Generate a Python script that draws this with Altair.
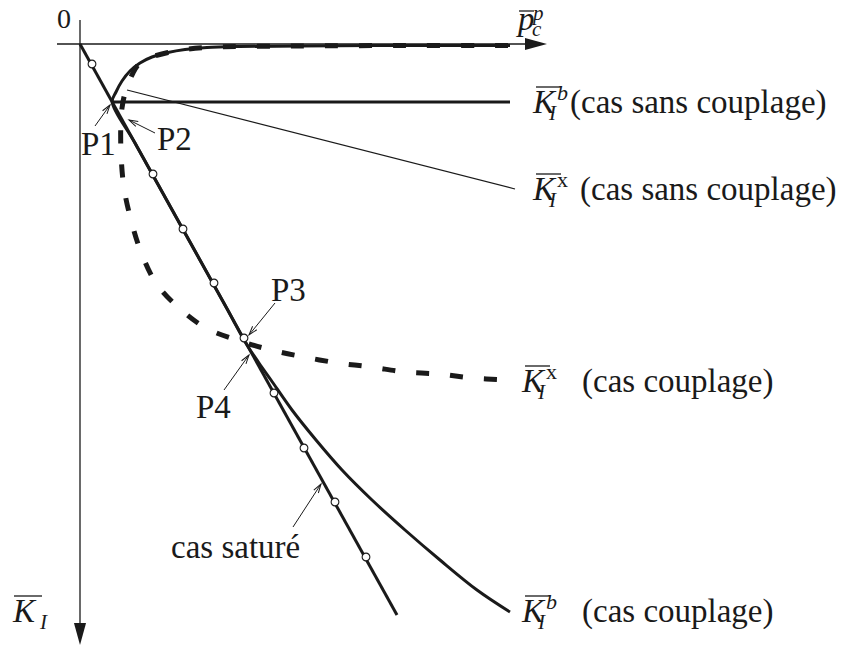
import altair as alt
import pandas as pd

# ---- curves: p̄_c^p along x, K̄_I growing downward along y ----
# saturated case (straight line) and its marker points
sat_p = [0.0, 3.17]
sat_k = [0.0, 5.71]
sat_mark_p = [0.12, 0.73, 1.03, 1.34, 1.64, 1.94, 2.24, 2.55, 2.86]
sat_mark_k = [0.20, 1.30, 1.85, 2.39, 2.94, 3.49, 4.04, 4.58, 5.13]

# K_I^b, coupled case (solid): joins the saturated line at P1, leaves it at P4
kb_cpl_p = [4.30, 3.20, 2.20, 1.60, 1.27, 1.05, 0.88, 0.72, 0.60, 0.50, 0.42, 0.36, 0.322,
            0.55, 1.00, 1.45, 1.67, 1.79, 1.91, 2.12, 2.36, 2.62, 2.92, 3.25, 3.60, 3.97, 4.30]
kb_cpl_k = [0.015, 0.015, 0.02, 0.025, 0.035, 0.055, 0.085, 0.13, 0.19, 0.27, 0.37, 0.48, 0.58,
            0.99, 1.80, 2.61, 3.01, 3.19, 3.36, 3.66, 3.96, 4.26, 4.56, 4.86, 5.16, 5.46, 5.68]

# K_I^x, coupled case (thick dashes)
kx_cpl_p = [4.28, 3.20, 2.20, 1.60, 1.27, 1.05, 0.88, 0.72, 0.60, 0.53, 0.48, 0.44, 0.42, 0.41,
            0.41, 0.44, 0.51, 0.61, 0.76, 0.99, 1.26, 1.57, 1.91, 2.24, 2.58, 2.91, 3.25, 3.58,
            3.92, 4.27]
kx_cpl_k = [0.015, 0.015, 0.02, 0.025, 0.035, 0.055, 0.085, 0.13, 0.19, 0.29, 0.41, 0.53, 0.64,
            0.74, 1.09, 1.44, 1.76, 2.08, 2.39, 2.64, 2.84, 2.96, 3.06, 3.13, 3.19, 3.23, 3.28,
            3.30, 3.34, 3.36]

# uncoupled cases
kb_unc_p = [0.322, 4.30]
kb_unc_k = [0.58, 0.58]
kx_unc_p = [0.47, 4.35]
kx_unc_k = [0.46, 1.45]

# ---- annotations ----
pt_names = ["P1", "P2", "P3", "P4", "cas saturé"]
pt_text_p = [0.01, 0.77, 1.91, 1.16, 0.91]
pt_text_k = [1.11, 1.06, 2.57, 3.74, 5.14]
arr_tail_p = [0.15, 0.75, 1.95, 1.44, 2.13]
arr_tail_k = [0.82, 0.89, 2.59, 3.46, 4.83]
arr_tip_p = [0.30, 0.49, 1.69, 1.69, 2.41]
arr_tip_k = [0.61, 0.76, 2.91, 3.11, 4.40]
arr_angle = [35.5, 296.6, 219.1, 35.5, 33.1]

lab_sup = ["b", "x", "x", "b"]
lab_rest = ["(cas sans couplage)", "(cas sans couplage)", "(cas couplage)", "(cas couplage)"]
lab_k_p = [4.53, 4.53, 4.42, 4.42]
lab_rest_p = [4.90, 5.00, 5.02, 5.02]
lab_base_k = [0.69, 1.56, 3.48, 5.78]

FONT = "Liberation Serif, DejaVu Serif, serif"
FS = 33
INK = "#1a1a1a"
XS = alt.Scale(domain=[-0.80, 7.69], nice=False, zero=False)
YS = alt.Scale(domain=[-0.44, 6.04], nice=False, zero=False, reverse=True)


def enc(px="p", ky="k"):
    return dict(x=alt.X(f"{px}:Q", scale=XS, axis=None),
                y=alt.Y(f"{ky}:Q", scale=YS, axis=None))


def path(ps, ks):
    return pd.DataFrame({"p": ps, "k": ks, "i": range(len(ps))})


def curve(ps, ks, **mark):
    return alt.Chart(path(ps, ks)).mark_line(color=INK, strokeCap="butt", **mark).encode(
        order="i:Q", **enc())


def txt(**kw):
    base = dict(font=FONT, align="left", baseline="alphabetic", color=INK)
    base.update(kw)
    return base


# axes with arrowheads
axes_df = pd.DataFrame({"p": [-0.23, 0.0], "k": [0.0, -0.24], "p2": [4.47, 0.0], "k2": [0.0, 5.80]})
axes = alt.Chart(axes_df).mark_rule(color=INK, strokeWidth=1.3).encode(
    x2="p2:Q", y2="k2:Q", **enc())
head_h = alt.Chart(pd.DataFrame({"p": [4.56], "k": [0.0]})).mark_point(
    shape="M-1,-0.55L1,0L-1,0.55Z", size=484, filled=True, color=INK, opacity=1).encode(**enc())
head_v = alt.Chart(pd.DataFrame({"p": [0.0], "k": [5.90]})).mark_point(
    shape="M-0.55,-1L0.55,-1L0,1Z", size=484, filled=True, color=INK, opacity=1).encode(**enc())

thin = curve(kx_unc_p, kx_unc_k, strokeWidth=1.2)
horiz = curve(kb_unc_p, kb_unc_k, strokeWidth=3)
sat = curve(sat_p, sat_k, strokeWidth=3)
kb_c = curve(kb_cpl_p, kb_cpl_k, strokeWidth=3, interpolate="catmull-rom")
kx_c = curve(kx_cpl_p, kx_cpl_k, strokeWidth=5, strokeDash=[13, 21], interpolate="catmull-rom")
marks = alt.Chart(pd.DataFrame({"p": sat_mark_p, "k": sat_mark_k})).mark_point(
    shape="circle", size=60, filled=True, fill="white", stroke=INK, strokeWidth=1.1,
    opacity=1).encode(**enc())

# pointer arrows
ann = pd.DataFrame({"name": pt_names, "tp": pt_text_p, "tk": pt_text_k,
                    "ap": arr_tail_p, "ak": arr_tail_k, "bp": arr_tip_p, "bk": arr_tip_k,
                    "ang": arr_angle})
shafts = alt.Chart(ann).mark_rule(color=INK, strokeWidth=1).encode(
    x2="bp:Q", y2="bk:Q", **enc("ap", "ak"))
tips = alt.Chart(ann).mark_point(shape="M-0.3,1L0,0L0.3,1", size=324, filled=False,
                                 color=INK, strokeWidth=1, opacity=1).encode(
    angle=alt.Angle("ang:Q", scale=None), **enc("bp", "bk"))
pt_text = alt.Chart(ann).mark_text(**txt(fontSize=FS)).encode(text="name:N", **enc("tp", "tk"))

# right-hand curve labels: K̄_I^{b|x} (...)
labs = pd.DataFrame({"sup": lab_sup, "rest": lab_rest, "kp": lab_k_p, "rp": lab_rest_p,
                     "kk": lab_base_k})
base = alt.Chart(labs)
lab_K = base.mark_text(**txt(text="K", fontSize=FS, fontStyle="italic")).encode(**enc("kp", "kk"))
lab_I = base.mark_text(**txt(text="I", fontSize=21, fontStyle="italic", dx=16, dy=7)).encode(
    **enc("kp", "kk"))
lab_b = base.transform_filter("datum.sup == 'b'").mark_text(
    **txt(fontSize=22, fontStyle="italic", dx=24, dy=-13)).encode(text="sup:N", **enc("kp", "kk"))
lab_x = base.transform_filter("datum.sup == 'x'").mark_text(
    **txt(fontSize=22, dx=24, dy=-13)).encode(text="sup:N", **enc("kp", "kk"))
lab_bar = base.mark_rule(color=INK, strokeWidth=1.3, xOffset=3, x2Offset=28,
                         yOffset=-26, y2Offset=-26).encode(
    x2="kp:Q", y2="kk:Q", **enc("kp", "kk"))
lab_rest_t = base.mark_text(**txt(fontSize=FS)).encode(text="rest:N", **enc("rp", "kk"))

# axis titles and origin
ax_p = alt.Chart(pd.DataFrame({"p": [4.38], "k": [-0.14]}))
p_main = ax_p.mark_text(**txt(text="p", fontSize=FS, fontStyle="italic")).encode(**enc())
p_sub = ax_p.mark_text(**txt(text="c", fontSize=21, fontStyle="italic", dx=14, dy=6)).encode(**enc())
p_sup = ax_p.mark_text(**txt(text="p", fontSize=21, fontStyle="italic", dx=15, dy=-10)).encode(**enc())
p_bar = ax_p.mark_rule(color=INK, strokeWidth=1.3, xOffset=1, x2Offset=16,
                       yOffset=-19, y2Offset=-19).encode(x2="p:Q", y2="k:Q", **enc())

ax_k = alt.Chart(pd.DataFrame({"p": [-0.67], "k": [5.78]}))
k_main = ax_k.mark_text(**txt(text="K", fontSize=FS, fontStyle="italic")).encode(**enc())
k_sub = ax_k.mark_text(**txt(text="I", fontSize=21, fontStyle="italic", dx=27, dy=7)).encode(**enc())
k_bar = ax_k.mark_rule(color=INK, strokeWidth=1.3, xOffset=1, x2Offset=29,
                       yOffset=-26, y2Offset=-26).encode(x2="p:Q", y2="k:Q", **enc())

zero = alt.Chart(pd.DataFrame({"p": [-0.23], "k": [-0.16]})).mark_text(
    **txt(text="0", fontSize=28)).encode(**enc())

chart = alt.layer(
    axes, head_h, head_v, thin, horiz, sat, kb_c, kx_c, marks,
    shafts, tips, pt_text,
    lab_bar, lab_K, lab_I, lab_b, lab_x, lab_rest_t,
    p_bar, p_main, p_sub, p_sup, k_bar, k_main, k_sub, zero,
).properties(
    width=849, height=648, padding=0, autosize=alt.AutoSizeParams(type="none"),
    background="white",
).configure_view(stroke=None)

chart.save("out.html", embed_options={"renderer": "svg", "actions": False})
